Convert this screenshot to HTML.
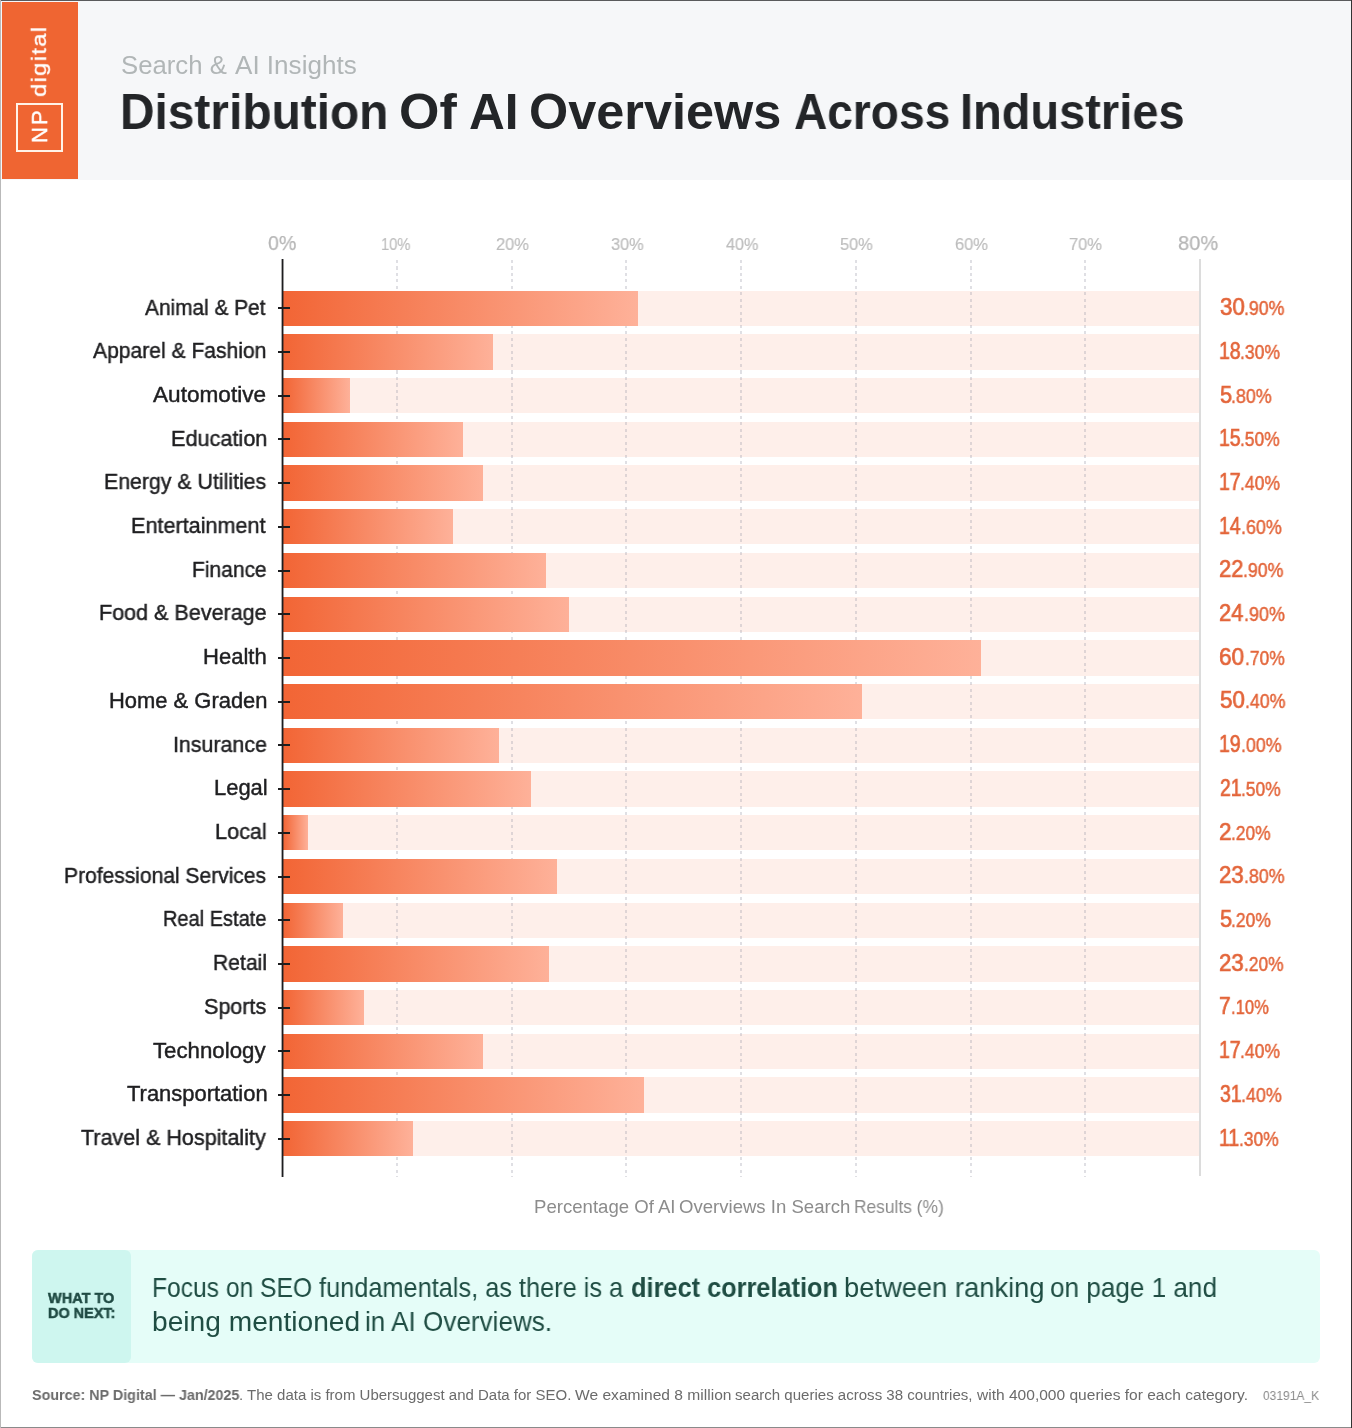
<!DOCTYPE html>
<html lang="en"><head><meta charset="utf-8"><title>Distribution Of AI Overviews Across Industries</title>
<style>
html,body{margin:0;padding:0}
body{width:1352px;height:1428px;position:relative;background:#fff;overflow:hidden;font-family:"Liberation Sans",sans-serif}
.t{will-change:transform;position:absolute;white-space:pre;line-height:normal;transform-origin:0 0}
.a{position:absolute}
.ln{margin:0;padding:0;font-size:inherit;font-weight:inherit}
.track{position:absolute;left:283.4px;width:915.2px;height:35.3px;background:#feefea}
.bar{position:absolute;left:283.4px;height:35.3px;background:linear-gradient(90deg,#f26535 0%,#feb199 100%)}
.tick{position:absolute;left:278px;width:12px;height:2px;background:#1d1d1f}
.grid{position:absolute;top:259.5px;height:917px;width:2px;background:repeating-linear-gradient(180deg,rgba(150,150,165,.3) 0,rgba(150,150,165,.3) 3px,rgba(255,255,255,0) 3px,rgba(255,255,255,0) 6.5px)}
</style></head><body>
<div class="a" style="left:0;top:0;width:1352px;height:180px;background:#f6f7f9"></div>
<div class="a" style="left:2px;top:2px;width:75.6px;height:176.8px;background:#ef6532"></div>
<div class="a" style="left:16px;top:103px;width:43px;height:45px;border:2px solid #fff3e8"></div>
<div class="t" style="left:47.4px;top:143.2px;font-size:22px;color:#fff;transform:rotate(-90deg) translateY(-19.9px);letter-spacing:2px;-webkit-text-stroke:0.35px #fff">NP</div>
<div class="t" style="left:45.9px;top:96.9px;font-size:20px;color:#fff;transform:rotate(-90deg) scaleX(1.19) translateY(-18.1px);letter-spacing:1.1px;-webkit-text-stroke:0.3px #fff">digital</div>
<p class="ln"><span class="t" style="left:120.83px;top:51.00px;font-size:25.73px;color:#b1b6b7;">Search &amp;</span> <span class="t" style="left:235.25px;top:51.00px;font-size:25.73px;color:#b1b6b7;transform:scaleX(1.0133);">AI Insights</span></p>
<h1 class="ln"><span class="t" style="left:120.40px;top:82.80px;font-size:49.56px;color:#232528;font-weight:bold;transform:scaleX(0.9654);">Distribution</span> <span class="t" style="left:398.77px;top:82.80px;font-size:49.56px;color:#232528;font-weight:bold;transform:scaleX(1.0487);">Of</span> <span class="t" style="left:468.77px;top:82.80px;font-size:49.56px;color:#232528;font-weight:bold;transform:scaleX(0.9953);">AI</span> <span class="t" style="left:529.23px;top:82.80px;font-size:49.56px;color:#232528;font-weight:bold;transform:scaleX(1.0179);">Overviews</span> <span class="t" style="left:793.65px;top:82.80px;font-size:49.56px;color:#232528;font-weight:bold;transform:scaleX(0.9300);">Across</span> <span class="t" style="left:960.16px;top:82.80px;font-size:49.56px;color:#232528;font-weight:bold;transform:scaleX(0.9484);">Industries</span></h1>
<span class="t" style="left:267.74px;top:231.10px;font-size:21.03px;color:#b6b6b6;transform:scaleX(0.9304);-webkit-text-stroke:0.25px #b6b6b6;">0%</span>
<span class="t" style="left:381.13px;top:234.90px;font-size:17.13px;color:#bdbdbd;transform:scaleX(0.8598);-webkit-text-stroke:0.2px #bdbdbd;">10%</span>
<span class="t" style="left:495.72px;top:234.90px;font-size:17.13px;color:#bdbdbd;transform:scaleX(0.9610);-webkit-text-stroke:0.2px #bdbdbd;">20%</span>
<span class="t" style="left:610.68px;top:234.90px;font-size:17.13px;color:#bdbdbd;transform:scaleX(0.9549);-webkit-text-stroke:0.2px #bdbdbd;">30%</span>
<span class="t" style="left:725.68px;top:234.90px;font-size:17.13px;color:#bdbdbd;transform:scaleX(0.9475);-webkit-text-stroke:0.2px #bdbdbd;">40%</span>
<span class="t" style="left:840.14px;top:234.90px;font-size:17.13px;color:#bdbdbd;transform:scaleX(0.9559);-webkit-text-stroke:0.2px #bdbdbd;">50%</span>
<span class="t" style="left:954.71px;top:234.90px;font-size:17.13px;color:#bdbdbd;transform:scaleX(0.9613);-webkit-text-stroke:0.2px #bdbdbd;">60%</span>
<span class="t" style="left:1069.46px;top:234.90px;font-size:17.13px;color:#bdbdbd;transform:scaleX(0.9615);-webkit-text-stroke:0.2px #bdbdbd;">70%</span>
<span class="t" style="left:1177.63px;top:231.10px;font-size:21.03px;color:#b6b6b6;transform:scaleX(0.9530);-webkit-text-stroke:0.25px #b6b6b6;">80%</span>
<div class="track" style="top:290.65px"></div>
<div class="track" style="top:334.36px"></div>
<div class="track" style="top:378.07px"></div>
<div class="track" style="top:421.78px"></div>
<div class="track" style="top:465.49px"></div>
<div class="track" style="top:509.20px"></div>
<div class="track" style="top:552.91px"></div>
<div class="track" style="top:596.62px"></div>
<div class="track" style="top:640.33px"></div>
<div class="track" style="top:684.04px"></div>
<div class="track" style="top:727.75px"></div>
<div class="track" style="top:771.46px"></div>
<div class="track" style="top:815.17px"></div>
<div class="track" style="top:858.88px"></div>
<div class="track" style="top:902.59px"></div>
<div class="track" style="top:946.30px"></div>
<div class="track" style="top:990.01px"></div>
<div class="track" style="top:1033.72px"></div>
<div class="track" style="top:1077.43px"></div>
<div class="track" style="top:1121.14px"></div>
<div class="grid" style="left:395.75px"></div>
<div class="grid" style="left:510.50px"></div>
<div class="grid" style="left:625.25px"></div>
<div class="grid" style="left:740.00px"></div>
<div class="grid" style="left:854.75px"></div>
<div class="grid" style="left:969.50px"></div>
<div class="grid" style="left:1084.25px"></div>
<div class="a" style="left:1199px;top:259px;width:2px;height:917px;background:#dcdcdc"></div>
<div class="bar" style="top:290.65px;width:354.7px"></div>
<div class="bar" style="top:334.36px;width:209.5px"></div>
<div class="bar" style="top:378.07px;width:66.6px"></div>
<div class="bar" style="top:421.78px;width:179.6px"></div>
<div class="bar" style="top:465.49px;width:199.4px"></div>
<div class="bar" style="top:509.20px;width:169.2px"></div>
<div class="bar" style="top:552.91px;width:262.6px"></div>
<div class="bar" style="top:596.62px;width:285.4px"></div>
<div class="bar" style="top:640.33px;width:697.3px"></div>
<div class="bar" style="top:684.04px;width:578.6px"></div>
<div class="bar" style="top:727.75px;width:215.9px"></div>
<div class="bar" style="top:771.46px;width:247.4px"></div>
<div class="bar" style="top:815.17px;width:24.9px"></div>
<div class="bar" style="top:858.88px;width:273.3px"></div>
<div class="bar" style="top:902.59px;width:59.5px"></div>
<div class="bar" style="top:946.30px;width:265.5px"></div>
<div class="bar" style="top:990.01px;width:80.5px"></div>
<div class="bar" style="top:1033.72px;width:199.4px"></div>
<div class="bar" style="top:1077.43px;width:360.5px"></div>
<div class="bar" style="top:1121.14px;width:129.7px"></div>
<div class="a" style="left:281px;top:259px;width:3px;height:918px;background:linear-gradient(90deg,rgba(29,29,31,.38) 0,rgba(29,29,31,.38) 1px,#1d1d1f 1px,#1d1d1f 2px,rgba(29,29,31,.45) 2px,rgba(29,29,31,.45) 3px)"></div>
<div class="tick" style="top:307.30px"></div>
<span class="t" style="left:145.26px;top:294.50px;font-size:21.95px;color:#1f1f21;transform:scaleX(0.9494);-webkit-text-stroke:0.45px #1f1f21;">Animal &amp; Pet</span>
<div class="ln"><span class="t" style="left:1219.65px;top:293.10px;font-size:24.32px;color:#e3653a;transform:scaleX(0.9177);-webkit-text-stroke:0.7px #e3653a;">30</span><span class="t" style="left:1244.28px;top:297.10px;font-size:19.77px;color:#e3653a;transform:scaleX(0.8954);-webkit-text-stroke:0.45px #e3653a;">.90%</span></div>
<div class="tick" style="top:351.01px"></div>
<span class="t" style="left:93.46px;top:338.21px;font-size:21.95px;color:#1f1f21;transform:scaleX(0.9608);-webkit-text-stroke:0.45px #1f1f21;">Apparel &amp; Fashion</span>
<div class="ln"><span class="t" style="left:1219.32px;top:336.81px;font-size:24.32px;color:#e3653a;transform:scaleX(0.8000);-webkit-text-stroke:0.7px #e3653a;">18</span><span class="t" style="left:1240.31px;top:340.81px;font-size:19.77px;color:#e3653a;transform:scaleX(0.8883);-webkit-text-stroke:0.45px #e3653a;">.30%</span></div>
<div class="tick" style="top:394.72px"></div>
<span class="t" style="left:153.46px;top:381.92px;font-size:21.95px;color:#1f1f21;transform:scaleX(1.0301);-webkit-text-stroke:0.45px #1f1f21;">Automotive</span>
<div class="ln"><span class="t" style="left:1219.63px;top:380.52px;font-size:24.32px;color:#e3653a;transform:scaleX(0.8928);-webkit-text-stroke:0.7px #e3653a;">5</span><span class="t" style="left:1231.17px;top:384.52px;font-size:19.77px;color:#e3653a;transform:scaleX(0.9024);-webkit-text-stroke:0.45px #e3653a;">.80%</span></div>
<div class="tick" style="top:438.43px"></div>
<span class="t" style="left:170.52px;top:425.63px;font-size:21.95px;color:#1f1f21;transform:scaleX(0.9878);-webkit-text-stroke:0.45px #1f1f21;">Education</span>
<div class="ln"><span class="t" style="left:1219.32px;top:424.23px;font-size:24.32px;color:#e3653a;transform:scaleX(0.8000);-webkit-text-stroke:0.7px #e3653a;">15</span><span class="t" style="left:1240.45px;top:428.23px;font-size:19.77px;color:#e3653a;transform:scaleX(0.8789);-webkit-text-stroke:0.45px #e3653a;">.50%</span></div>
<div class="tick" style="top:482.14px"></div>
<span class="t" style="left:104.05px;top:469.34px;font-size:21.95px;color:#1f1f21;transform:scaleX(0.9712);-webkit-text-stroke:0.45px #1f1f21;">Energy &amp; Utilities</span>
<div class="ln"><span class="t" style="left:1219.32px;top:467.94px;font-size:24.32px;color:#e3653a;transform:scaleX(0.8000);-webkit-text-stroke:0.7px #e3653a;">17</span><span class="t" style="left:1240.37px;top:471.94px;font-size:19.77px;color:#e3653a;transform:scaleX(0.8883);-webkit-text-stroke:0.45px #e3653a;">.40%</span></div>
<div class="tick" style="top:525.85px"></div>
<span class="t" style="left:131.13px;top:513.05px;font-size:21.95px;color:#1f1f21;transform:scaleX(0.9850);-webkit-text-stroke:0.45px #1f1f21;">Entertainment</span>
<div class="ln"><span class="t" style="left:1219.32px;top:511.65px;font-size:24.32px;color:#e3653a;transform:scaleX(0.8000);-webkit-text-stroke:0.7px #e3653a;">14</span><span class="t" style="left:1240.75px;top:515.65px;font-size:19.77px;color:#e3653a;transform:scaleX(0.9048);-webkit-text-stroke:0.45px #e3653a;">.60%</span></div>
<div class="tick" style="top:569.56px"></div>
<span class="t" style="left:191.78px;top:556.76px;font-size:21.95px;color:#1f1f21;transform:scaleX(0.9565);-webkit-text-stroke:0.45px #1f1f21;">Finance</span>
<div class="ln"><span class="t" style="left:1219.40px;top:555.36px;font-size:24.32px;color:#e3653a;transform:scaleX(0.9024);-webkit-text-stroke:0.7px #e3653a;">22</span><span class="t" style="left:1243.48px;top:559.36px;font-size:19.77px;color:#e3653a;transform:scaleX(0.8954);-webkit-text-stroke:0.45px #e3653a;">.90%</span></div>
<div class="tick" style="top:613.27px"></div>
<span class="t" style="left:98.83px;top:600.47px;font-size:21.95px;color:#1f1f21;transform:scaleX(0.9818);-webkit-text-stroke:0.45px #1f1f21;">Food &amp; Beverage</span>
<div class="ln"><span class="t" style="left:1219.40px;top:599.07px;font-size:24.32px;color:#e3653a;transform:scaleX(0.9000);-webkit-text-stroke:0.7px #e3653a;">24</span><span class="t" style="left:1243.76px;top:603.07px;font-size:19.77px;color:#e3653a;transform:scaleX(0.9071);-webkit-text-stroke:0.45px #e3653a;">.90%</span></div>
<div class="tick" style="top:656.98px"></div>
<span class="t" style="left:203.19px;top:644.18px;font-size:21.95px;color:#1f1f21;transform:scaleX(1.0051);-webkit-text-stroke:0.45px #1f1f21;">Health</span>
<div class="ln"><span class="t" style="left:1219.35px;top:642.78px;font-size:24.32px;color:#e3653a;transform:scaleX(0.9291);-webkit-text-stroke:0.7px #e3653a;">60</span><span class="t" style="left:1244.61px;top:646.78px;font-size:19.77px;color:#e3653a;transform:scaleX(0.8813);-webkit-text-stroke:0.45px #e3653a;">.70%</span></div>
<div class="tick" style="top:700.69px"></div>
<span class="t" style="left:109.01px;top:687.89px;font-size:21.95px;color:#1f1f21;-webkit-text-stroke:0.45px #1f1f21;">Home &amp; Graden</span>
<div class="ln"><span class="t" style="left:1219.60px;top:686.49px;font-size:24.32px;color:#e3653a;transform:scaleX(0.9195);-webkit-text-stroke:0.7px #e3653a;">50</span><span class="t" style="left:1244.58px;top:690.49px;font-size:19.77px;color:#e3653a;transform:scaleX(0.8977);-webkit-text-stroke:0.45px #e3653a;">.40%</span></div>
<div class="tick" style="top:744.40px"></div>
<span class="t" style="left:172.63px;top:731.60px;font-size:21.95px;color:#1f1f21;transform:scaleX(0.9738);-webkit-text-stroke:0.45px #1f1f21;">Insurance</span>
<div class="ln"><span class="t" style="left:1219.32px;top:730.20px;font-size:24.32px;color:#e3653a;transform:scaleX(0.8000);-webkit-text-stroke:0.7px #e3653a;">19</span><span class="t" style="left:1240.71px;top:734.20px;font-size:19.77px;color:#e3653a;transform:scaleX(0.9001);-webkit-text-stroke:0.45px #e3653a;">.00%</span></div>
<div class="tick" style="top:788.11px"></div>
<span class="t" style="left:213.61px;top:775.31px;font-size:21.95px;color:#1f1f21;transform:scaleX(0.9937);-webkit-text-stroke:0.45px #1f1f21;">Legal</span>
<div class="ln"><span class="t" style="left:1219.52px;top:773.91px;font-size:24.32px;color:#e3653a;transform:scaleX(0.8000);-webkit-text-stroke:0.7px #e3653a;">21</span><span class="t" style="left:1241.02px;top:777.91px;font-size:19.77px;color:#e3653a;transform:scaleX(0.8789);-webkit-text-stroke:0.45px #e3653a;">.50%</span></div>
<div class="tick" style="top:831.82px"></div>
<span class="t" style="left:215.12px;top:819.02px;font-size:21.95px;color:#1f1f21;transform:scaleX(0.9881);-webkit-text-stroke:0.45px #1f1f21;">Local</span>
<div class="ln"><span class="t" style="left:1219.36px;top:817.62px;font-size:24.32px;color:#e3653a;transform:scaleX(0.9292);-webkit-text-stroke:0.7px #e3653a;">2</span><span class="t" style="left:1231.22px;top:821.62px;font-size:19.77px;color:#e3653a;transform:scaleX(0.8766);-webkit-text-stroke:0.45px #e3653a;">.20%</span></div>
<div class="tick" style="top:875.53px"></div>
<span class="t" style="left:64.28px;top:862.73px;font-size:21.95px;color:#1f1f21;transform:scaleX(0.9576);-webkit-text-stroke:0.45px #1f1f21;">Professional Services</span>
<div class="ln"><span class="t" style="left:1219.38px;top:861.33px;font-size:24.32px;color:#e3653a;transform:scaleX(0.9129);-webkit-text-stroke:0.7px #e3653a;">23</span><span class="t" style="left:1243.78px;top:865.33px;font-size:19.77px;color:#e3653a;transform:scaleX(0.9001);-webkit-text-stroke:0.45px #e3653a;">.80%</span></div>
<div class="tick" style="top:919.24px"></div>
<span class="t" style="left:162.96px;top:906.44px;font-size:21.95px;color:#1f1f21;transform:scaleX(0.9120);-webkit-text-stroke:0.45px #1f1f21;">Real Estate</span>
<div class="ln"><span class="t" style="left:1219.63px;top:905.04px;font-size:24.32px;color:#e3653a;transform:scaleX(0.8928);-webkit-text-stroke:0.7px #e3653a;">5</span><span class="t" style="left:1231.20px;top:909.04px;font-size:19.77px;color:#e3653a;transform:scaleX(0.8836);-webkit-text-stroke:0.45px #e3653a;">.20%</span></div>
<div class="tick" style="top:962.95px"></div>
<span class="t" style="left:212.87px;top:950.15px;font-size:21.95px;color:#1f1f21;transform:scaleX(0.9636);-webkit-text-stroke:0.45px #1f1f21;">Retail</span>
<div class="ln"><span class="t" style="left:1219.38px;top:948.75px;font-size:24.32px;color:#e3653a;transform:scaleX(0.9129);-webkit-text-stroke:0.7px #e3653a;">23</span><span class="t" style="left:1243.82px;top:952.75px;font-size:19.77px;color:#e3653a;transform:scaleX(0.8766);-webkit-text-stroke:0.45px #e3653a;">.20%</span></div>
<div class="tick" style="top:1006.66px"></div>
<span class="t" style="left:204.02px;top:993.86px;font-size:21.95px;color:#1f1f21;transform:scaleX(0.9819);-webkit-text-stroke:0.45px #1f1f21;">Sports</span>
<div class="ln"><span class="t" style="left:1219.43px;top:992.46px;font-size:24.32px;color:#e3653a;transform:scaleX(0.8589);-webkit-text-stroke:0.7px #e3653a;">7</span><span class="t" style="left:1230.78px;top:996.46px;font-size:19.77px;color:#e3653a;transform:scaleX(0.8400);-webkit-text-stroke:0.45px #e3653a;">.10%</span></div>
<div class="tick" style="top:1050.37px"></div>
<span class="t" style="left:153.00px;top:1037.57px;font-size:21.95px;color:#1f1f21;transform:scaleX(1.0140);-webkit-text-stroke:0.45px #1f1f21;">Technology</span>
<div class="ln"><span class="t" style="left:1219.32px;top:1036.17px;font-size:24.32px;color:#e3653a;transform:scaleX(0.8000);-webkit-text-stroke:0.7px #e3653a;">17</span><span class="t" style="left:1240.37px;top:1040.17px;font-size:19.77px;color:#e3653a;transform:scaleX(0.8883);-webkit-text-stroke:0.45px #e3653a;">.40%</span></div>
<div class="tick" style="top:1094.08px"></div>
<span class="t" style="left:126.51px;top:1081.28px;font-size:21.95px;color:#1f1f21;-webkit-text-stroke:0.45px #1f1f21;">Transportation</span>
<div class="ln"><span class="t" style="left:1219.76px;top:1079.88px;font-size:24.32px;color:#e3653a;transform:scaleX(0.8000);-webkit-text-stroke:0.7px #e3653a;">31</span><span class="t" style="left:1241.21px;top:1083.88px;font-size:19.77px;color:#e3653a;transform:scaleX(0.9048);-webkit-text-stroke:0.45px #e3653a;">.40%</span></div>
<div class="tick" style="top:1137.79px"></div>
<span class="t" style="left:80.82px;top:1124.99px;font-size:21.95px;color:#1f1f21;transform:scaleX(0.9818);-webkit-text-stroke:0.45px #1f1f21;">Travel &amp; Hospitality</span>
<div class="ln"><span class="t" style="left:1219.32px;top:1123.59px;font-size:24.32px;color:#e3653a;transform:scaleX(0.8000);-webkit-text-stroke:0.7px #e3653a;">11</span><span class="t" style="left:1239.28px;top:1127.59px;font-size:19.77px;color:#e3653a;transform:scaleX(0.8789);-webkit-text-stroke:0.45px #e3653a;">.30%</span></div>
<div class="ln"><span class="t" style="left:533.77px;top:1196.20px;font-size:18.46px;color:#8c8c8c;transform:scaleX(1.0080);">Percentage Of AI</span> <span class="t" style="left:679.22px;top:1196.20px;font-size:18.46px;color:#8c8c8c;transform:scaleX(1.0069);">Overviews In Search</span> <span class="t" style="left:854.37px;top:1196.20px;font-size:18.46px;color:#8c8c8c;transform:scaleX(0.9415);">Results (%)</span></div>
<div class="a" style="left:32px;top:1249.6px;width:1288px;height:113.6px;border-radius:6px;background:#e5fdf8"></div>
<div class="a" style="left:32px;top:1249.6px;width:98.7px;height:113.6px;border-radius:6px;background:#cef6ef"></div>
<span class="t" style="left:48.39px;top:1288.70px;font-size:14.97px;color:#1f4a43;font-weight:bold;transform:scaleX(0.9687);-webkit-text-stroke:0.5px #1f4a43;">WHAT TO</span>
<span class="t" style="left:48.03px;top:1304.80px;font-size:14.83px;color:#1f4a43;font-weight:bold;transform:scaleX(0.9748);-webkit-text-stroke:0.5px #1f4a43;">DO NEXT:</span>
<div class="ln"><span class="t" style="left:151.78px;top:1271.80px;font-size:27.47px;color:#1f4d43;transform:scaleX(0.8962);">Focus on SEO</span> <span class="t" style="left:318.64px;top:1271.80px;font-size:27.47px;color:#1f4d43;transform:scaleX(0.9222);">fundamentals, as there is a</span> <span class="t" style="left:631.36px;top:1271.80px;font-size:27.47px;color:#1f4d43;font-weight:bold;transform:scaleX(0.9225);">direct correlation</span> <span class="t" style="left:844.24px;top:1271.80px;font-size:27.47px;color:#1f4d43;transform:scaleX(0.9948);">between ranking</span> <span class="t" style="left:1049.70px;top:1271.80px;font-size:27.47px;color:#1f4d43;transform:scaleX(0.9505);">on page 1 and</span></div>
<div class="ln"><span class="t" style="left:151.99px;top:1306.40px;font-size:27.47px;color:#1f4d43;transform:scaleX(1.0246);">being mentioned</span> <span class="t" style="left:365.25px;top:1306.40px;font-size:27.47px;color:#1f4d43;transform:scaleX(0.9502);">in AI Overviews.</span></div>
<div class="ln"><span class="t" style="left:32.49px;top:1386.70px;font-size:14.83px;color:#6b6b6b;font-weight:bold;transform:scaleX(0.9655);">Source: NP Digital — Jan/2025</span><span class="t" style="left:239.43px;top:1386.70px;font-size:14.83px;color:#6b6b6b;transform:scaleX(1.0114);">. The data is from Ubersuggest and Data for SEO.</span> <span class="t" style="left:575.33px;top:1386.70px;font-size:14.83px;color:#6b6b6b;transform:scaleX(1.0509);">We examined 8 million</span> <span class="t" style="left:735.38px;top:1386.70px;font-size:14.83px;color:#6b6b6b;transform:scaleX(1.0145);">search queries across 38 countries,</span> <span class="t" style="left:976.92px;top:1386.70px;font-size:14.83px;color:#6b6b6b;transform:scaleX(1.0481);">with 400,000 queries for each category.</span></div>
<span class="t" style="left:1262.53px;top:1387.70px;font-size:13.66px;color:#8a8a8a;transform:scaleX(0.8794);">03191A_K</span>
<div class="a" style="left:0;top:0;width:1352px;height:1px;background:#5a5a5c"></div>
<div class="a" style="left:0;top:1427px;width:1352px;height:1px;background:#8a8a8a"></div>
<div class="a" style="left:0;top:0;width:1px;height:1428px;background:#b9b9b9"></div>
<div class="a" style="left:1350.6px;top:0;width:1.4px;height:1428px;background:#333"></div>
</body></html>
